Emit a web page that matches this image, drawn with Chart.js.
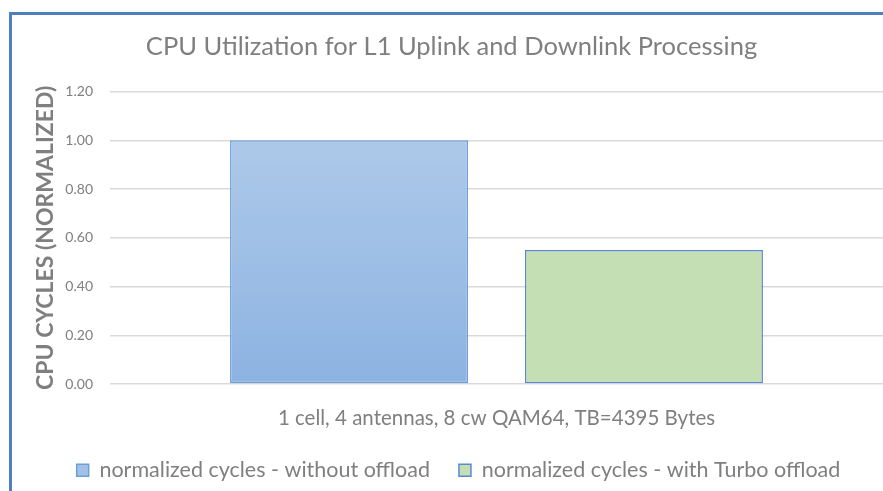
<!DOCTYPE html>
<html>
<head>
<meta charset="utf-8">
<script src="https://cdn.jsdelivr.net/npm/chart.js@4"></script>
<style>
  body { margin: 0; background: #fff; }
  #wrap { position: absolute; left: 0; top: 0; width: 883px; height: 491px; }
  #frame {
    position: absolute; left: 9px; top: 12px; right: 0; bottom: 0;
    border-left: 3px solid #4f7fbf; border-top: 3px solid #4f7fbf;
    pointer-events: none;
  }
</style>
</head>
<body>
<div id="wrap">
  <canvas id="chart" width="883" height="491"></canvas>
  <div id="frame"></div>
</div>
<script>
// Data
const categories = ["1 cell, 4 antennas, 8 cw QAM64, TB=4395 Bytes"];
const seriesNames = ["normalized cycles - without offload", "normalized cycles - with Turbo offload"];
const withoutOffload = [1.0];
const withTurbo = [0.55];
const yTicks = [0, 0.2, 0.4, 0.6, 0.8, 1.0, 1.2];

const FONT = "Lato, 'Open Sans', sans-serif";
const GREY = "#7f7f7f";

// Excel-style vertical gradient for the first series
function blueFill(context) {
  const chart = context.chart;
  const area = chart.chartArea;
  if (!area) return "#a3c0e6";
  const g = chart.ctx.createLinearGradient(0, area.top, 0, area.bottom);
  g.addColorStop(0, "#b3cdea");
  g.addColorStop(1, "#8db3e2");
  return g;
}

// Title and legend sit a bit right of the canvas centre in the original
const nudgeBlocks = {
  id: "nudgeBlocks",
  afterLayout(chart) {
    chart.titleBlock.left += 10;
    chart.titleBlock.right += 10;
    chart.legend.left += 17;
    chart.legend.right += 17;
  }
};

const ctx = document.getElementById("chart").getContext("2d");
new Chart(ctx, {
  type: "bar",
  data: {
    labels: categories,
    datasets: [
      {
        label: seriesNames[0],
        data: withoutOffload,
        backgroundColor: blueFill,
        borderColor: "#6d9fd8",
        borderWidth: 1.5,
        borderSkipped: false,
        categoryPercentage: 0.763,
        barPercentage: 0.807
      },
      {
        label: seriesNames[1],
        data: withTurbo,
        backgroundColor: "#c5dfb4",
        borderColor: "#5b87d6",
        borderWidth: 1.5,
        borderSkipped: false,
        categoryPercentage: 0.763,
        barPercentage: 0.807
      }
    ]
  },
  plugins: [nudgeBlocks],
  options: {
    responsive: false,
    animation: false,
    layout: { padding: { left: 0, right: 0, top: 0, bottom: 0 } },
    plugins: {
      title: {
        display: true,
        text: "CPU Utilization for L1 Uplink and Downlink Processing",
        color: GREY,
        font: { family: FONT, size: 25.5, weight: "normal" },
        padding: { top: 31, bottom: 30 }
      },
      legend: {
        position: "bottom",
        labels: {
          color: GREY,
          font: { family: FONT, size: 21.5 },
          boxWidth: 12,
          boxHeight: 12,
          padding: 29,
          generateLabels(chart) {
            const items = Chart.defaults.plugins.legend.labels.generateLabels(chart);
            items[0].fillStyle = "#a3c0e6";
            items[0].strokeStyle = "#6d9fd8";
            items[1].fillStyle = "#c5dfb4";
            items[1].strokeStyle = "#5b87d6";
            items.forEach(it => { it.lineWidth = 1.5; });
            return items;
          }
        }
      },
      tooltip: { enabled: false }
    },
    scales: {
      x: {
        grid: { display: false },
        border: { display: false },
        afterFit(axis) {
          axis.height = 46.5;
        },
        ticks: {
          color: GREY,
          font: { family: FONT, size: 20.5 },
          padding: 14
        }
      },
      y: {
        min: 0,
        max: 1.2,
        afterBuildTicks(axis) {
          axis.ticks = yTicks.map(v => ({ value: v }));
        },
        afterFit(axis) {
          axis.width = 110;
        },
        grid: { color: "#d9d9d9", lineWidth: 1.5, drawTicks: false },
        border: { display: false },
        ticks: {
          color: GREY,
          font: { family: FONT, size: 14 },
          padding: 17,
          callback: v => v.toFixed(2)
        },
        title: {
          display: true,
          text: "CPU CYCLES (NORMALIZED)",
          color: GREY,
          font: { family: FONT, size: 23, weight: "bold" },
          padding: { top: 32, bottom: 0 }
        }
      }
    }
  }
});
</script>
</body>
</html>
